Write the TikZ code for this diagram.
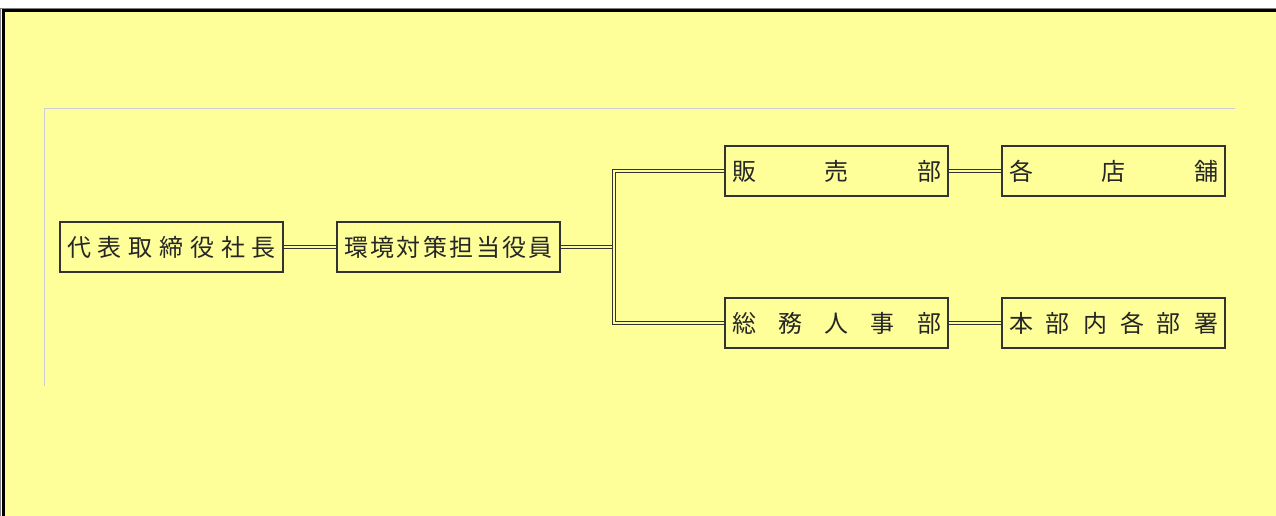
\documentclass[tikz,border=0pt]{standalone}
\usepackage{fontspec}
\newfontfamily\jpfont{Noto Sans CJK JP}
\usepackage{xcolor}
\usepackage{tikz}
\definecolor{memo}{RGB}{255,255,153}
\definecolor{frameline}{RGB}{206,206,218}
\newcommand{\spread}[1]{\makebox[209pt][s]{#1}}

\begin{document}
\begin{tikzpicture}[x=1pt,y=-1pt,font=\jpfont\fontsize{24}{28}\selectfont,
  orgbox/.style={draw=black!80, line width=1.4pt, fill=memo, text=black!85, minimum width=223pt, minimum height=50pt, inner sep=0pt},
  link/.style={draw=black!80, line width=1.5pt, double=memo, double distance=1.4pt}]
\useasboundingbox (0,0) rectangle (1276,516);
\fill[white] (0,0) rectangle (1276,516);
\fill[memo] (4,11) rectangle (1276,516);
\draw[gray, line width=1pt] (0.5,516) -- (0.5,8.2) -- (1276,8.2);
\draw[black, line width=3.5pt] (3.5,516) -- (3.5,10.5) -- (1276,10.5);
\draw[frameline, line width=1.5pt] (44.5,386) -- (44.5,108.5) -- (1235,108.5);

\node[orgbox] (shacho) at (171.5,247) {\spread{代\hfill 表\hfill 取\hfill 締\hfill 役\hfill 社\hfill 長}};
\node[orgbox] (yakuin) at (448.5,247) {\spread{環\hfill 境\hfill 対\hfill 策\hfill 担\hfill 当\hfill 役\hfill 員}};
\node[orgbox] (hanbai) at (836.5,171) {\spread{販\hfill 売\hfill 部}};
\node[orgbox] (somu) at (836.5,323) {\spread{総\hfill 務\hfill 人\hfill 事\hfill 部}};
\node[orgbox] (tenpo) at (1113.5,171) {\spread{各\hfill 店\hfill 舗}};
\node[orgbox] (honbu) at (1113.5,323) {\spread{本\hfill 部\hfill 内\hfill 各\hfill 部\hfill 署}};
\coordinate (bunki) at (614,247);

\draw[link] (shacho.east) -- (yakuin.west);
\draw[link] (yakuin.east) -- (bunki);
\draw[link] (hanbai.west) -| (bunki) |- (somu.west);
\draw[link] (hanbai.east) -- (tenpo.west);
\draw[link] (somu.east) -- (honbu.west);
\end{tikzpicture}
\end{document}
